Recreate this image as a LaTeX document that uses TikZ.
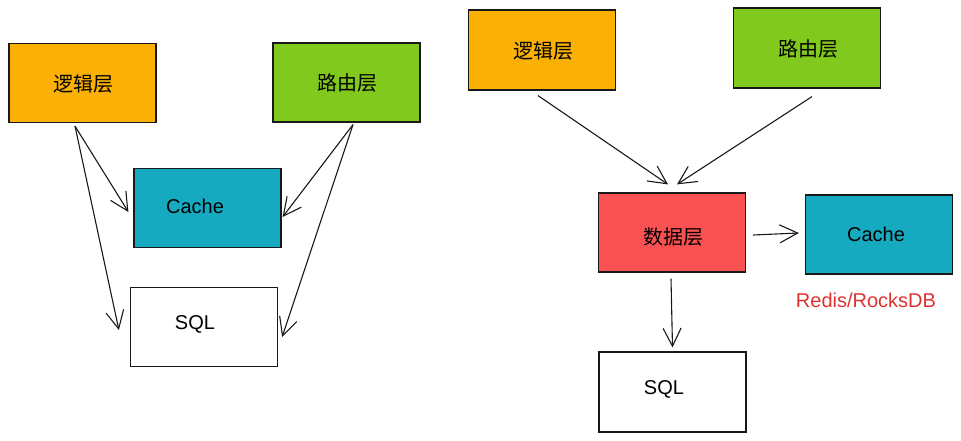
\documentclass[tikz,border=0pt]{standalone}
\usepackage{fontspec}
\setmainfont{Liberation Sans}
\newfontfamily\cjk{Noto Sans CJK SC}
\usetikzlibrary{arrows.meta}
\definecolor{cOrange}{HTML}{FAB005}
\definecolor{cGreen}{HTML}{82C91E}
\definecolor{cCyan}{HTML}{15AABF}
\definecolor{cRed}{HTML}{FA5252}
\definecolor{cText}{HTML}{E03131}
\begin{document}
\begin{tikzpicture}[x=1pt,y=-1pt,
  box/.style={draw=black!90, line width=1.2pt, inner sep=0pt, minimum width=147pt, minimum height=79pt},
  lbl/.style={font=\fontsize{20}{24}\selectfont, inner sep=0pt},
  zh/.style={font=\cjk\fontsize{20}{24}\selectfont, inner sep=0pt},
  arr/.style={draw=black!90, line width=1.1pt, -{Straight Barb[length=18pt,width=18pt,line width=1.1pt]}}]
\useasboundingbox (0,0) rectangle (961,441);
% left diagram
\node[box, fill=cOrange] (ll) at (82.5,83) {};
\node[zh] (llt) at (83,84) {逻辑层};
\node[box, fill=cGreen] (lr) at (346.5,82.5) {};
\node[zh] (lrt) at (347,83) {路由层};
\node[box, fill=cCyan] (lc) at (207.5,208) {};
\node[lbl] (lct) at (195,206) {Cache};
\node[box, fill=white] (ls) at (204,327) {};
\node[lbl] (lst) at (195,324) {SQL};
\draw[arr] ([xshift=-7.5pt,yshift=-3pt]ll.south) -- ([xshift=-5pt,yshift=-4pt]lc.west);
\draw[arr] ([xshift=-7.5pt,yshift=-3pt]ll.south) -- ([xshift=-11pt,yshift=-3pt]ls.west);
\draw[arr] ([xshift=6.5pt,yshift=-2pt]lr.south) -- ([xshift=1pt,yshift=-9pt]lc.east);
\draw[arr] ([xshift=6.5pt,yshift=-2pt]lr.south) -- ([xshift=4pt,yshift=-10pt]ls.east);
% right diagram
\node[box, fill=cOrange, minimum height=80pt] (rl) at (542,50) {};
\node[zh] (rlt) at (543,51) {逻辑层};
\node[box, fill=cGreen, minimum height=80pt] (rr) at (807,48) {};
\node[zh] (rrt) at (808,49) {路由层};
\node[box, fill=cRed] (rd) at (672,232.5) {};
\node[zh] (rdt) at (673,237) {数据层};
\node[box, fill=cCyan] (rc) at (879,234.5) {};
\node[lbl] (rct) at (876,234) {Cache};
\node[box, fill=white, minimum height=80pt] (rs) at (672.5,392) {};
\node[lbl] (rst) at (664,389) {SQL};
\node[lbl, text=cText] (redis) at (866,300) {Redis/RocksDB};
\draw[arr] ([xshift=-4pt,yshift=-5pt]rl.south) -- ([xshift=-4pt,yshift=8pt]rd.north);
\draw[arr] ([xshift=5pt,yshift=-8pt]rr.south) -- ([xshift=5pt,yshift=8pt]rd.north);
\draw[arr] ([xshift=7pt,yshift=-2.5pt]rd.east) -- ([xshift=-6pt,yshift=1.5pt]rc.west);
\draw[arr] ([xshift=-1pt,yshift=-6pt]rd.south) -- ([xshift=0pt,yshift=4pt]rs.north);
\end{tikzpicture}
\end{document}
